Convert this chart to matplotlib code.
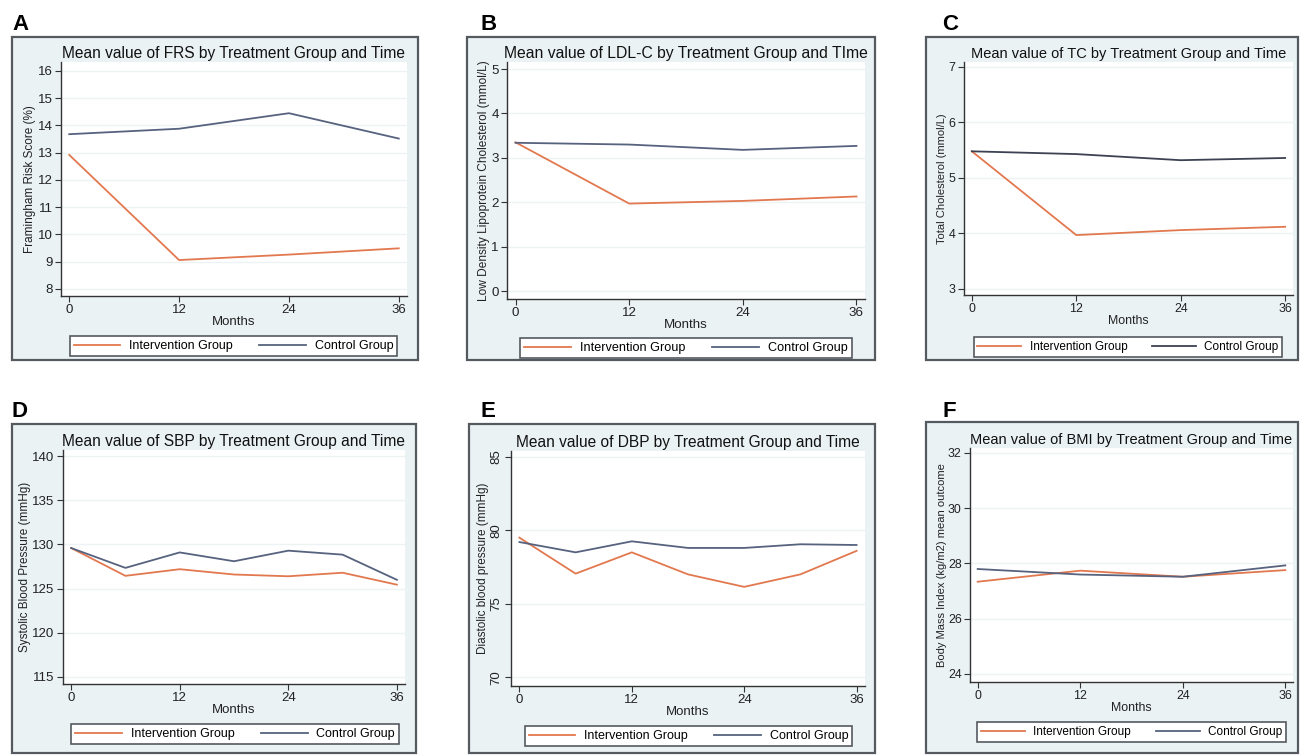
import matplotlib
matplotlib.use("Agg")
import matplotlib.pyplot as plt
from matplotlib.patches import Rectangle

plt.rcParams['font.family'] = ['Liberation Sans', 'DejaVu Sans']

W, H = 1301, 755

months = [0, 12, 24, 36]
months_bp = [0, 6, 12, 18, 24, 30, 36]
xticks = [0, 12, 24, 36]

frs_int = [12.92, 9.06, 9.26, 9.49]
frs_ctl = [13.68, 13.88, 14.45, 13.52]
ldl_int = [3.35, 1.97, 2.03, 2.13]
ldl_ctl = [3.34, 3.30, 3.18, 3.27]
tc_int = [5.48, 3.97, 4.06, 4.12]
tc_ctl = [5.48, 5.43, 5.32, 5.36]
sbp_int = [129.6, 126.45, 127.2, 126.6, 126.4, 126.8, 125.45]
sbp_ctl = [129.6, 127.35, 129.1, 128.1, 129.3, 128.85, 126.0]
dbp_int = [79.5, 77.05, 78.5, 77.0, 76.15, 77.0, 78.6]
dbp_ctl = [79.2, 78.5, 79.25, 78.8, 78.8, 79.05, 79.0]
bmi_int = [27.34, 27.74, 27.52, 27.76]
bmi_ctl = [27.8, 27.6, 27.52, 27.93]

ORANGE = '#e2784f'
SLATE = '#56627e'
BG = '#eaf2f3'
EDGE = '#555a60'


def fig_rect(l, t, r, b):
    return [l / W, 1 - b / H, (r - l) / W, (b - t) / H]


# panel: letter, letter pos, outer box, axes box, legend box, title, ylabel, x, y series, yticks, ylim
panels = [
    dict(letter='A', lpos=(12, 30), box=(12, 37, 418, 360), ax=(61, 62, 407, 296),
         leg=(68, 335, 399, 357), title='Mean value of FRS by Treatment Group and Time',
         ylabel='Framingham Risk Score (%)', x=months, yi=frs_int, yc=frs_ctl,
         yticks=list(range(8, 17)), ylim=(7.74, 16.33), ctl=SLATE, k=1.0),
    dict(letter='B', lpos=(480, 30), box=(467, 37, 875, 360), ax=(507, 62, 865, 299),
         leg=(519, 337, 853, 359), title='Mean value of LDL-C by Treatment Group and TIme',
         ylabel='Low Density Lipoprotein Cholesterol (mmol/L)', x=months, yi=ldl_int, yc=ldl_ctl,
         yticks=list(range(0, 6)), ylim=(-0.18, 5.16), ctl=SLATE, k=1.01),
    dict(letter='C', lpos=(942, 30), box=(926, 37, 1298, 360), ax=(964, 62, 1293, 295),
         leg=(973, 336, 1283, 358), title='Mean value of TC by Treatment Group and Time',
         ylabel='Total Cholesterol (mmol/L)', x=months, yi=tc_int, yc=tc_ctl,
         yticks=list(range(3, 8)), ylim=(2.89, 7.09), ctl='#3d4253', k=0.94),
    dict(letter='D', lpos=(12, 417), box=(12, 424, 416, 753), ax=(63, 450, 405, 684),
         leg=(69, 723, 401, 745), title='Mean value of SBP by Treatment Group and Time',
         ylabel='Systolic Blood Pressure (mmHg)', x=months_bp, yi=sbp_int, yc=sbp_ctl,
         yticks=list(range(115, 141, 5)), ylim=(114.2, 140.7), ctl=SLATE, k=1.0),
    dict(letter='E', lpos=(480, 417), box=(469, 424, 875, 753), ax=(511, 451, 865, 686),
         leg=(521, 725, 856, 747), title='Mean value of DBP by Treatment Group and Time',
         ylabel='Diastolic blood pressure (mmHg)', x=months_bp, yi=dbp_int, yc=dbp_ctl,
         yticks=list(range(70, 86, 5)), ylim=(69.4, 85.4), ctl=SLATE, rot=90, k=1.0),
    dict(letter='F', lpos=(942, 417), box=(926, 422, 1298, 753), ax=(970, 448, 1293, 682),
         leg=(977, 721, 1286, 743), title='Mean value of BMI by Treatment Group and Time',
         ylabel='Body Mass Index (kg/m2) mean outcome', x=months, yi=bmi_int, yc=bmi_ctl,
         yticks=list(range(24, 33, 2)), ylim=(23.71, 32.18), ctl=SLATE, k=0.94),
]

fig = plt.figure(figsize=(W / 100, H / 100), dpi=100)

for p in panels:
    k = p['k']
    l, t, r, b = p['box']
    fig.add_artist(Rectangle((l / W, 1 - b / H), (r - l) / W, (b - t) / H,
                             transform=fig.transFigure, facecolor=BG,
                             edgecolor=EDGE, linewidth=1.6, zorder=0))
    fig.text(p['lpos'][0] / W, 1 - p['lpos'][1] / H, p['letter'],
             fontsize=16, fontweight='bold', ha='left', va='baseline')

    ax = fig.add_axes(fig_rect(*p['ax']))
    ax.set_facecolor('white')
    for s in ['top', 'right']:
        ax.spines[s].set_visible(False)
    for s in ['left', 'bottom']:
        ax.spines[s].set_color('#333333')
        ax.spines[s].set_linewidth(1.0)

    ax.plot(p['x'], p['yi'], color=ORANGE, lw=1.3, label='Intervention Group')
    ax.plot(p['x'], p['yc'], color=p['ctl'], lw=1.3, label='Control Group')

    ax.set_xlim(-0.9, 36.9)
    ax.set_ylim(*p['ylim'])
    ax.set_xticks(xticks)
    ax.set_yticks(p['yticks'])
    ax.yaxis.grid(True, color='#edf3f4', lw=1.0)
    ax.set_axisbelow(True)
    ax.tick_params(axis='both', direction='out', length=4, width=0.8,
                   color='#333333', labelsize=9.5 * k, pad=2, labelcolor='#222222')
    if p.get('rot'):
        for lab in ax.get_yticklabels():
            lab.set_rotation(90)
            lab.set_va('center')

    ax.set_title(p['title'], fontsize=11.2 * k, pad=3, color='#111111')
    ax.set_xlabel('Months', fontsize=9.5 * k, labelpad=0, color='#222222')
    ax.set_ylabel(p['ylabel'], fontsize=8.5 * k, labelpad=1, color='#222222')

    ll, lt, lr, lb = p['leg']
    leg = ax.legend(loc='center', bbox_to_anchor=((ll + lr) / 2 / W, 1 - (lt + lb) / 2 / H),
                    bbox_transform=fig.transFigure, ncol=2,
                    fontsize=9 * k, handlelength=3.75, handletextpad=0.7,
                    borderaxespad=0, borderpad=0.3, columnspacing=2.1,
                    fancybox=False, framealpha=1, edgecolor=EDGE)
    leg.get_frame().set_linewidth(1.2)

fig.savefig('out.png', dpi=100)
